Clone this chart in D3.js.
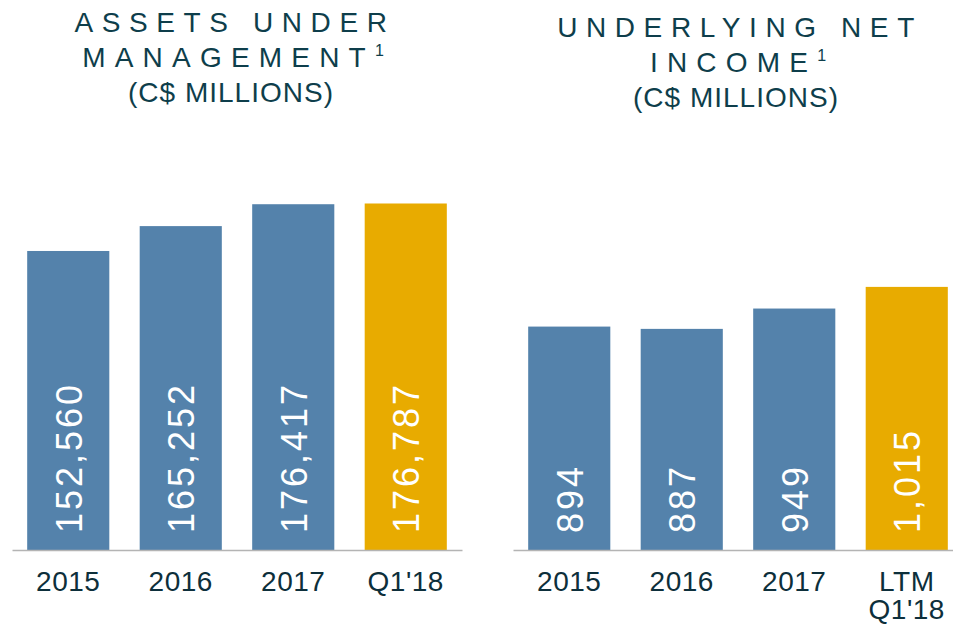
<!DOCTYPE html>
<html>
<head>
<meta charset="utf-8">
<script src="https://cdn.jsdelivr.net/npm/d3@7"></script>
<style>
  body { margin: 0; background: #fff; }
  text { font-family: "Liberation Sans", Arial, sans-serif; }
</style>
</head>
<body>
<div id="chart"></div>
<script>
// data
var aumCategories = ["2015", "2016", "2017", "Q1'18"];
var aumValues = [152560, 165252, 176417, 176787];
var aumLabels = ["152,560", "165,252", "176,417", "176,787"];

var incomeCategories = ["2015", "2016", "2017", "LTM\nQ1'18"];
var incomeValues = [894, 887, 949, 1015];
var incomeLabels = ["894", "887", "949", "1,015"];

var highlight = [false, false, false, true];

var svgWidth = 953;
var svgHeight = 624;
var baseline = 550;

var blue = "#5482ab";
var gold = "#e8ab00";
var titleColor = "#0e3e4b";
var labelColor = "#0d2f3b";

var svg = d3.select("#chart")
    .append("svg")
    .attr("width", svgWidth)
    .attr("height", svgHeight);

function drawPanel(cfg) {
    var g = svg.append("g");

    var xScale = d3.scaleBand()
        .domain(cfg.categories)
        .range(cfg.xRange)
        .paddingInner(0.27)
        .paddingOuter(0.135);

    var yScale = d3.scaleLinear()
        .domain(cfg.yDomain)
        .range([baseline, cfg.yTop]);

    // bars
    g.selectAll("rect.bar")
        .data(cfg.values)
        .enter()
        .append("rect")
        .attr("class", "bar")
        .attr("x", (d, i) => xScale(cfg.categories[i]))
        .attr("y", d => yScale(d))
        .attr("width", xScale.bandwidth())
        .attr("height", d => baseline - yScale(d))
        .attr("fill", (d, i) => highlight[i] ? gold : blue);

    // value labels, rotated
    g.selectAll("text.val")
        .data(cfg.labels)
        .enter()
        .append("text")
        .attr("class", "val")
        .attr("transform", (d, i) => {
            var cx = xScale(cfg.categories[i]) + xScale.bandwidth() / 2 + 13.5;
            return `translate(${cx}, ${baseline - 17}) rotate(-90)`;
        })
        .attr("fill", "white")
        .attr("font-size", 36)
        .attr("letter-spacing", 3)
        .text(d => d);

    // x axis
    var bottomAxis = d3.axisBottom(xScale).tickSize(0).tickSizeOuter(0);
    var axisG = g.append("g")
        .attr("transform", `translate(0, ${baseline})`)
        .call(bottomAxis);

    axisG.select(".domain")
        .attr("stroke", "#b4b4b4")
        .attr("stroke-width", 1.5);

    axisG.selectAll(".tick text").each(function(d) {
        var t = d3.select(this);
        var lines = d.split("\n");
        t.text(null)
            .attr("y", 41)
            .attr("dy", null)
            .attr("font-size", 28)
            .attr("font-family", "Liberation Sans, Arial, sans-serif")
            .attr("fill", labelColor)
            .attr("letter-spacing", 0.5);
        lines.forEach(function(line, k) {
            t.append("tspan")
                .attr("x", 0)
                .attr("dy", k === 0 ? 0 : 28)
                .text(line);
        });
    });

    // title
    var title = g.append("text")
        .attr("text-anchor", "middle")
        .attr("fill", titleColor)
        .attr("font-size", 28);

    title.append("tspan")
        .attr("x", cfg.titleX + 4)
        .attr("y", cfg.titleY)
        .attr("letter-spacing", 8.6)
        .text(cfg.title[0]);

    title.append("tspan")
        .attr("x", cfg.titleX + 2)
        .attr("y", cfg.titleY + 35)
        .attr("letter-spacing", 9.2)
        .text(cfg.title[1]);
    title.append("tspan")
        .attr("font-size", 16)
        .attr("dy", -11)
        .attr("letter-spacing", 0)
        .text("1");

    title.append("tspan")
        .attr("x", cfg.titleX)
        .attr("y", cfg.titleY + 70)
        .attr("letter-spacing", 1)
        .text("(C$ MILLIONS)");
}

drawPanel({
    categories: aumCategories,
    values: aumValues,
    labels: aumLabels,
    xRange: [12, 462],
    yDomain: [0, 200000],
    yTop: 158,
    title: ["ASSETS UNDER", "MANAGEMENT"],
    titleX: 231,
    titleY: 32
});

drawPanel({
    categories: incomeCategories,
    values: incomeValues,
    labels: incomeLabels,
    xRange: [513, 963],
    yDomain: [213, 1100],
    yTop: 259,
    title: ["UNDERLYING NET", "INCOME"],
    titleX: 736,
    titleY: 37
});
</script>
</body>
</html>
